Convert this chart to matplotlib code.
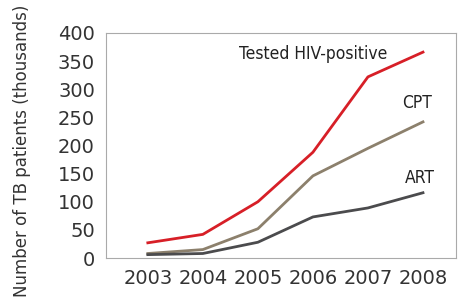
import matplotlib.pyplot as plt

years = [2003, 2004, 2005, 2006, 2007, 2008]
tested = [27, 42, 100, 188, 322, 366]
cpt = [8, 15, 52, 146, 195, 242]
art = [6, 8, 28, 73, 89, 116]

fig = plt.figure(figsize=(4.61, 3.02), dpi=100)
ax = fig.add_axes([106/461, 1-258/302, 350/461, 225/302])

ax.plot(years, tested, color='#d71f27', lw=2)
ax.plot(years, cpt, color='#8c806c', lw=2)
ax.plot(years, art, color='#4b4b4d', lw=2)

ax.set_xlim(2002.24, 2008.6)
ax.set_ylim(0, 400)
ax.set_yticks(range(0, 401, 50))
ax.set_xticks(years)
ax.tick_params(length=0, labelsize=14, colors='#333333', pad=8)
for s in ax.spines.values():
    s.set_color('#aaaaaa')

ax.set_ylabel('Number of TB patients (thousands)', fontsize=12, color='#333333')
ax.yaxis.set_label_coords(-0.215, 0.475)

lab = dict(fontsize=12.5, color='#222222', stretch='condensed',
           ha='center', va='center')
ax.text(2006.0, 362, 'Tested HIV-positive', **lab)
ax.text(2007.9, 275, 'CPT', **lab)
ax.text(2007.95, 142, 'ART', **lab)

fig.savefig('out.png', dpi=100)
